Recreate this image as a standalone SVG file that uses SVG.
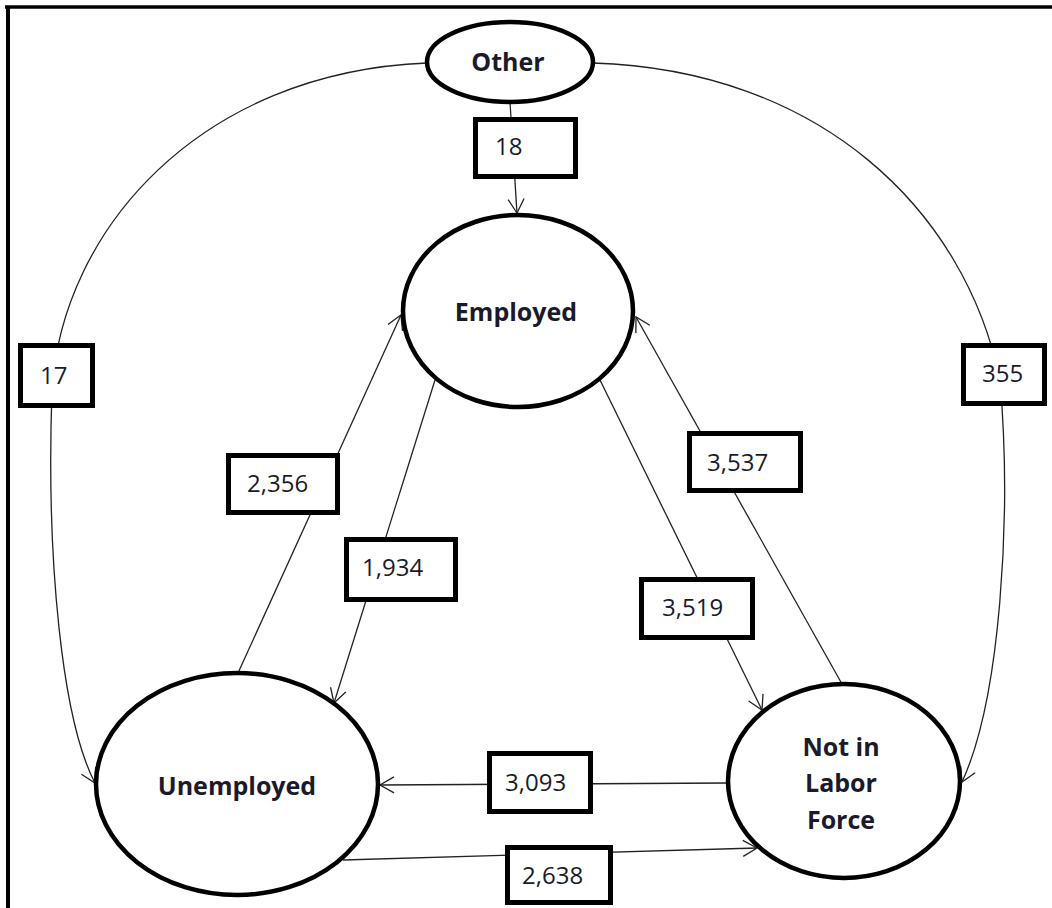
<svg xmlns="http://www.w3.org/2000/svg" width="1052" height="908" viewBox="0 0 1052 908">
<style>
.node ellipse{fill:#fff;stroke:#000;stroke-width:4.5}
.node text{font-family:"Open Sans","Liberation Sans",sans-serif;font-weight:bold;font-size:25px;fill:#1a1a2a;text-anchor:middle}
.lab rect{fill:#fff;stroke:#000;stroke-width:5}
.lab text{font-family:"Open Sans","Liberation Sans",sans-serif;font-size:24px;fill:#1a1a2a}
.edge{fill:none;stroke:#222;stroke-width:1.3;marker-end:url(#arr)}
</style>
<defs>
<marker id="arr" markerUnits="userSpaceOnUse" markerWidth="20" markerHeight="20" viewBox="0 0 20 20" refX="15" refY="10" orient="auto">
<path d="M1,2 L15,10 L1,18" fill="none" stroke="#222" stroke-width="1.3"/>
</marker>
</defs>
<rect x="0" y="0" width="1052" height="908" fill="#fff"/>
<line x1="5" y1="7" x2="1052" y2="7" stroke="#000" stroke-width="3.5"/>
<line x1="8" y1="6" x2="8" y2="908" stroke="#000" stroke-width="4"/>
<g id="connectors">
<path class="edge" d="M510,102 L517,213"/>
<path class="edge" d="M427,63 C200,72 62,230 52,390 C46,560 62,720 95,783"/>
<path class="edge" d="M593,63 C820,70 965,210 1000,380 C1012,520 1000,700 962,782"/>
<path class="edge" d="M435,380 L334,703"/>
<path class="edge" d="M238,673 L401,315"/>
<path class="edge" d="M600,380 L762,710"/>
<path class="edge" d="M842,684 L636,317"/>
<path class="edge" d="M728,783 L380,785"/>
<path class="edge" d="M343,860 L757,848"/>
</g>
<g id="node-other" class="node"><ellipse cx="510" cy="62" rx="83" ry="40"/><text x="508" y="71">Other</text></g>
<g id="node-employed" class="node"><ellipse cx="518" cy="311" rx="115" ry="96"/><text x="516" y="321">Employed</text></g>
<g id="node-unemployed" class="node"><ellipse cx="237" cy="784" rx="141" ry="111"/><text x="237" y="795">Unemployed</text></g>
<g id="node-nilf" class="node"><ellipse cx="844" cy="781" rx="116" ry="97"/><text x="841" y="756">Not in</text><text x="841" y="792">Labor</text><text x="841" y="829">Force</text></g>
<g id="label-18" class="lab"><rect x="475.5" y="119.5" width="100" height="57"/><text x="495" y="155">18</text></g>
<g id="label-17" class="lab"><rect x="20.5" y="345.5" width="72" height="60"/><text x="40" y="384">17</text></g>
<g id="label-355" class="lab"><rect x="963.5" y="345.5" width="81" height="58"/><text x="982" y="382">355</text></g>
<g id="label-2356" class="lab"><rect x="228.5" y="455.5" width="109" height="57"/><text x="247" y="492">2,356</text></g>
<g id="label-1934" class="lab"><rect x="346.5" y="539.5" width="109" height="60"/><text x="362" y="576">1,934</text></g>
<g id="label-3537" class="lab"><rect x="689.5" y="433.5" width="111" height="57"/><text x="707" y="471">3,537</text></g>
<g id="label-3519" class="lab"><rect x="641.5" y="579.5" width="111" height="58"/><text x="662" y="616">3,519</text></g>
<g id="label-3093" class="lab"><rect x="489.5" y="753.5" width="101" height="58"/><text x="505" y="791">3,093</text></g>
<g id="label-2638" class="lab"><rect x="507.5" y="847.5" width="103" height="55"/><text x="522" y="884">2,638</text></g>
</svg>
